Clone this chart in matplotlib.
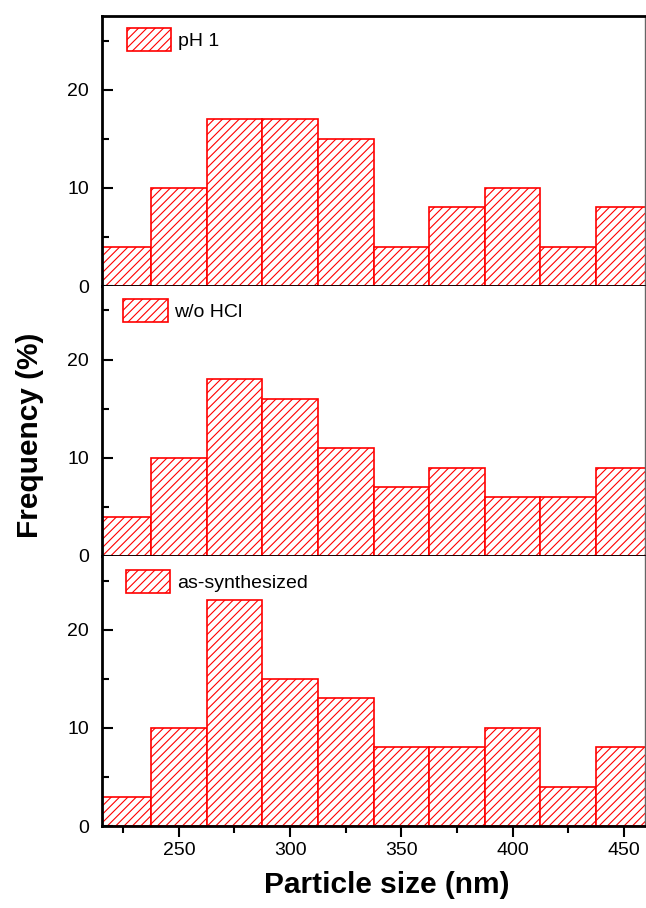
import matplotlib.pyplot as plt
import numpy as np
from matplotlib.ticker import MultipleLocator

plt.rcParams['font.family'] = ['Liberation Sans', 'DejaVu Sans']
plt.rcParams['hatch.linewidth'] = 0.8

# bin centres (nm), 25 nm wide bins
centers = [225, 250, 275, 300, 325, 350, 375, 400, 425, 450]
bin_width = 25

# frequency (%) per bin for each sample, top to bottom
freq_ph1 = [4, 10, 17, 17, 15, 4, 8, 10, 4, 8]
freq_wo_hcl = [4, 10, 18, 16, 11, 7, 9, 6, 6, 9]
freq_as_syn = [3, 10, 23, 15, 13, 8, 8, 10, 4, 8]

labels = ['pH 1', 'w/o HCl', 'as-synthesized']
series = [freq_ph1, freq_wo_hcl, freq_as_syn]

fig = plt.figure(figsize=(6.46, 9.08), dpi=100)

left, width = 0.1574, 0.841
bottoms = [0.685, 0.3877, 0.0903]
height = 0.2974
# legend anchor (axes fraction) for each panel
leg_x = [0.046, 0.039, 0.044]
leg_y = [0.955, 0.951, 0.949]

axes = []
for i, (lab, vals) in enumerate(zip(labels, series)):
    ax = fig.add_axes([left, bottoms[i], width, height])
    ax.bar(centers, vals, width=bin_width, facecolor='white', edgecolor='red',
           hatch='////', linewidth=1.2, label=lab)
    ax.set_xlim(215.3, 459.5)
    ax.set_ylim(0, 27.5)
    ax.yaxis.set_major_locator(MultipleLocator(10))
    ax.yaxis.set_minor_locator(MultipleLocator(5))
    ax.xaxis.set_major_locator(MultipleLocator(50))
    ax.xaxis.set_minor_locator(MultipleLocator(25))
    ax.tick_params(axis='y', which='both', direction='in', width=1.5, labelsize=14, pad=9)
    ax.tick_params(axis='y', which='major', length=8)
    ax.tick_params(axis='y', which='minor', length=5)
    ax.tick_params(axis='x', which='both', direction='out', width=1.5, labelsize=14)
    ax.tick_params(axis='x', which='major', length=8)
    ax.tick_params(axis='x', which='minor', length=5)
    for s in ['left', 'bottom', 'top']:
        ax.spines[s].set_linewidth(2)
    ax.spines['right'].set_linewidth(1)
    ax.spines['right'].set_color('0.4')
    if i < 2:
        ax.tick_params(axis='x', which='both', bottom=False, labelbottom=False)
    if i > 0:
        ax.spines['top'].set_visible(False)
    ax.legend(loc='upper left', bbox_to_anchor=(leg_x[i], leg_y[i]), frameon=False,
              fontsize=14, handlelength=2.3, handleheight=1.45, borderaxespad=0,
              borderpad=0, handletextpad=0.35)
    axes.append(ax)

axes[-1].set_xlabel('Particle size (nm)', fontsize=21.5, fontweight='bold')
axes[-1].xaxis.set_label_coords(0.525, -0.165)
fig.text(0.046, 0.521, 'Frequency (%)', rotation=90, ha='center', va='center',
         fontsize=21.5, fontweight='bold')

fig.savefig('out.png', dpi=100)
